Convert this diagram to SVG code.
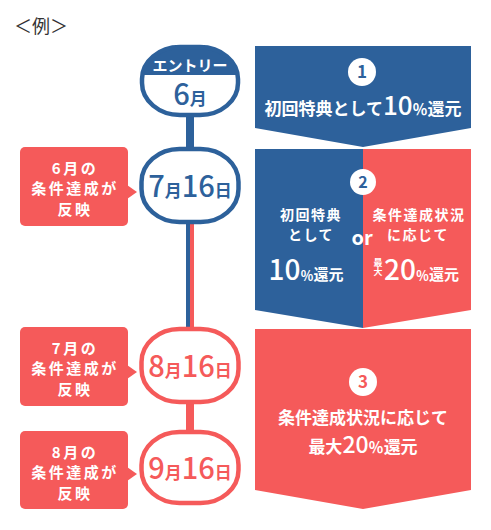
<svg xmlns="http://www.w3.org/2000/svg" width="491" height="530" viewBox="0 0 491 530">
<defs>
<style>
text{font-family:"Noto Sans CJK JP","Noto Sans",sans-serif;font-weight:700}
.w{fill:#fff}
.b{fill:#2d619b}
.r{fill:#f55a5a}
.d{font-weight:500}
.bs{fill:#fff;stroke:#2d619b;stroke-width:4.5}
.rs{fill:#fff;stroke:#f55a5a;stroke-width:4.5}
.ct{font-size:15px;fill:#fff;text-anchor:middle;letter-spacing:2.5px}
.pt{font-size:14px;fill:#fff;text-anchor:middle;letter-spacing:1.5px}
.nt{text-anchor:middle}
</style>
<clipPath id="entryClip"><rect x="142" y="47" width="96" height="68" rx="38" ry="32"/></clipPath>
</defs>

<text x="14" y="33" style="font-size:18px;font-weight:400;fill:#333">＜例＞</text>

<g id="connectors">
<rect x="186" y="112" width="8" height="40" class="b"/>
<rect x="186" y="222" width="4" height="110" class="b"/>
<rect x="190" y="222" width="4" height="110" class="r"/>
<rect x="186" y="400" width="8" height="34" class="r"/>
</g>

<g id="entry">
<rect x="142" y="47" width="96" height="68" rx="38" ry="32" fill="#fff"/>
<rect x="140" y="45" width="100" height="30" class="b" clip-path="url(#entryClip)"/>
<rect x="142" y="47" width="96" height="68" rx="38" ry="32" fill="none" stroke="#2d619b" stroke-width="4.5"/>
<text x="190" y="71" class="w nt" style="font-size:15px">エントリー</text>
<text x="190" y="105" class="b nt"><tspan class="d" style="font-size:29px">6</tspan><tspan style="font-size:17px">月</tspan></text>
</g>

<g id="jul16">
<rect x="141.5" y="149" width="97" height="73" rx="38" ry="33" class="bs"/>
<text x="190" y="197" class="b nt"><tspan class="d" style="font-size:29px">7</tspan><tspan style="font-size:17px">月</tspan><tspan class="d" style="font-size:29px">16</tspan><tspan style="font-size:17px">日</tspan></text>
</g>

<g id="aug16">
<rect x="141.5" y="329" width="97" height="73" rx="38" ry="33" class="rs"/>
<text x="190" y="377" class="r nt"><tspan class="d" style="font-size:29px">8</tspan><tspan style="font-size:17px">月</tspan><tspan class="d" style="font-size:29px">16</tspan><tspan style="font-size:17px">日</tspan></text>
</g>

<g id="sep16">
<rect x="141.5" y="432" width="97" height="71" rx="38" ry="33" class="rs"/>
<text x="190" y="479" class="r nt"><tspan class="d" style="font-size:29px">9</tspan><tspan style="font-size:17px">月</tspan><tspan class="d" style="font-size:29px">16</tspan><tspan style="font-size:17px">日</tspan></text>
</g>

<g id="callout1">
<rect x="20" y="147" width="108" height="79" rx="5" class="r"/>
<path d="M127 185 L137 192 L127 199 Z" class="r"/>
<text x="75" y="174" class="ct">6月の</text>
<text x="75" y="194" class="ct">条件達成が</text>
<text x="75" y="215" class="ct">反映</text>
</g>

<g id="callout2">
<rect x="20" y="327" width="108" height="79" rx="5" class="r"/>
<path d="M127 365 L137 372 L127 379 Z" class="r"/>
<text x="75" y="354" class="ct">7月の</text>
<text x="75" y="374" class="ct">条件達成が</text>
<text x="75" y="395" class="ct">反映</text>
</g>

<g id="callout3">
<rect x="20" y="431" width="108" height="78" rx="5" class="r"/>
<path d="M127 467 L137 474 L127 481 Z" class="r"/>
<text x="75" y="458" class="ct">8月の</text>
<text x="75" y="478" class="ct">条件達成が</text>
<text x="75" y="499" class="ct">反映</text>
</g>

<g id="panel1">
<path d="M255 46 H471 V128 L363 147 L255 128 Z" class="b"/>
<circle cx="362" cy="72" r="14" fill="#fff"/>
<text x="362" y="78" class="b nt" style="font-size:17px">1</text>
<text x="363" y="115" class="w nt"><tspan style="font-size:17px">初回特典として</tspan><tspan class="d" style="font-size:26px">10</tspan><tspan style="font-size:15px">％</tspan><tspan style="font-size:17px">還元</tspan></text>
</g>

<g id="panel2">
<path d="M255 149 H363 V328 L255 310 Z" class="b"/>
<path d="M363 149 H471 V310 L363 328 Z" class="r"/>
<circle cx="363" cy="182" r="13" fill="#fff"/>
<text x="363" y="188" class="b nt" style="font-size:16px">2</text>
<text x="311" y="220" class="pt">初回特典</text>
<text x="311" y="240" class="pt">として</text>
<text x="306" y="280" class="w nt"><tspan class="d" style="font-size:28px">10</tspan><tspan style="font-size:13px">％</tspan><tspan style="font-size:15px">還元</tspan></text>
<text x="362" y="245" class="w nt" style="font-size:20px">or</text>
<text x="419" y="220" class="pt">条件達成状況</text>
<text x="418" y="240" class="pt">に応じて</text>
<text x="378" y="258" class="w" writing-mode="vertical-rl" style="font-size:9px">最大</text>
<text x="384" y="280" class="w"><tspan class="d" style="font-size:28px">20</tspan><tspan style="font-size:13px">％</tspan><tspan style="font-size:15px">還元</tspan></text>
</g>

<g id="panel3">
<path d="M255 329 H471 V490 L363 509 L255 490 Z" class="r"/>
<circle cx="363" cy="382" r="14" fill="#fff"/>
<text x="363" y="388" class="r nt" style="font-size:17px">3</text>
<text x="363" y="424" class="w nt" style="font-size:17px">条件達成状況に応じて</text>
<text x="363" y="453" class="w nt"><tspan style="font-size:17px">最大</tspan><tspan class="d" style="font-size:23px">20</tspan><tspan style="font-size:15px">％</tspan><tspan style="font-size:17px">還元</tspan></text>
</g>
</svg>
